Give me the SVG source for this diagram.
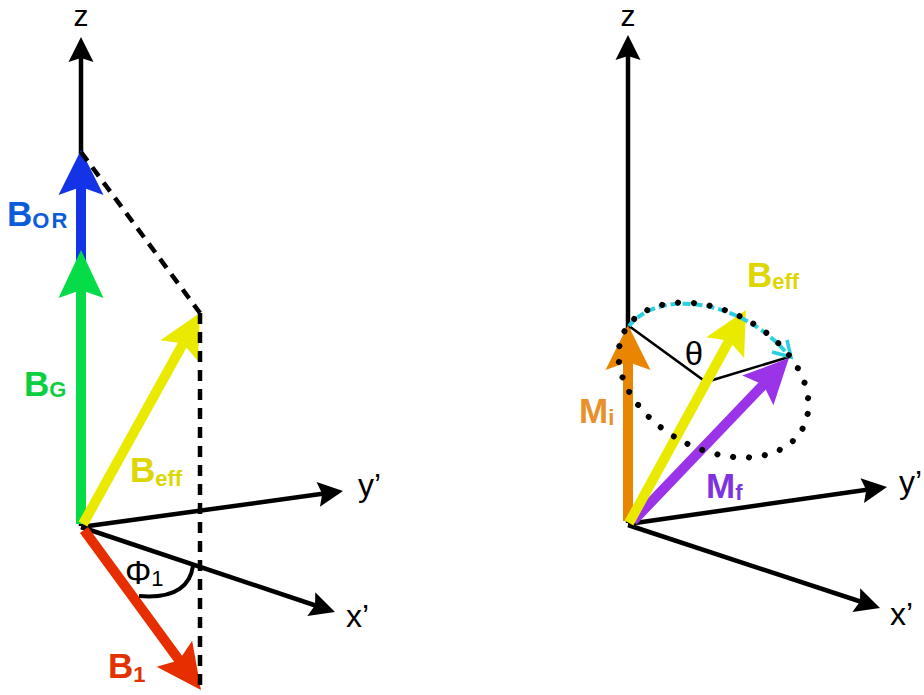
<svg xmlns="http://www.w3.org/2000/svg" width="924" height="695" viewBox="0 0 924 695">
<style>
.ax{stroke:#000;stroke-width:4.5;fill:none}
.lbl{font-family:"Liberation Sans",Arial,sans-serif;fill:#000}
.bl{font-family:"Liberation Sans",Arial,sans-serif;font-weight:bold;font-size:35px}
.sub{font-size:22px}
.dash{stroke:#000;stroke-width:4.5;fill:none;stroke-dasharray:11 8}
.vec{stroke-width:10;fill:none}
</style>
<defs>
<marker id="hk" markerUnits="userSpaceOnUse" orient="auto" refX="0" refY="0" markerWidth="60" markerHeight="60" viewBox="-30 -30 60 60" overflow="visible"><path d="M8 0 L-17 -12.5 L-13 0 L-17 12.5 Z" fill="#000"/></marker>
<marker id="hb" markerUnits="userSpaceOnUse" orient="auto" refX="0" refY="0" markerWidth="100" markerHeight="100" viewBox="-50 -50 100 100" overflow="visible"><path d="M15 0 L-30 -22.5 L-22 0 L-30 22.5 Z" fill="#1433E6"/></marker>
<marker id="hg" markerUnits="userSpaceOnUse" orient="auto" refX="0" refY="0" markerWidth="100" markerHeight="100" viewBox="-50 -50 100 100" overflow="visible"><path d="M15 0 L-33 -22.5 L-25 0 L-33 22.5 Z" fill="#05DC48"/></marker>
<marker id="hy" markerUnits="userSpaceOnUse" orient="auto" refX="0" refY="0" markerWidth="100" markerHeight="100" viewBox="-50 -50 100 100" overflow="visible"><path d="M15 0 L-28 -21.5 L-20 0 L-28 21.5 Z" fill="#EAEA00"/></marker>
<marker id="hr" markerUnits="userSpaceOnUse" orient="auto" refX="0" refY="0" markerWidth="100" markerHeight="100" viewBox="-50 -50 100 100" overflow="visible"><path d="M15 0 L-30 -22 L-22 0 L-30 22 Z" fill="#E62E00"/></marker>
<marker id="ho" markerUnits="userSpaceOnUse" orient="auto" refX="0" refY="0" markerWidth="100" markerHeight="100" viewBox="-50 -50 100 100" overflow="visible"><path d="M15 0 L-30 -22.5 L-22 0 L-30 22.5 Z" fill="#E98500"/></marker>
<marker id="hp" markerUnits="userSpaceOnUse" orient="auto" refX="0" refY="0" markerWidth="100" markerHeight="100" viewBox="-50 -50 100 100" overflow="visible"><path d="M15 0 L-30 -21.5 L-22 0 L-30 21.5 Z" fill="#9B33E8"/></marker>
</defs>

<g id="connectors">
  <line class="ax" x1="81" y1="526" x2="81" y2="45" marker-end="url(#hk)"/>
  <line class="ax" x1="81" y1="527" x2="335.1" y2="492.1" marker-end="url(#hk)"/>
  <line class="ax" x1="81" y1="527" x2="327.4" y2="609.5" marker-end="url(#hk)"/>
  <line class="ax" x1="628" y1="523" x2="628" y2="43" marker-end="url(#hk)"/>
  <line class="ax" x1="628" y1="524" x2="879.1" y2="488.1" marker-end="url(#hk)"/>
  <line class="ax" x1="628" y1="525" x2="872.4" y2="605.5" marker-end="url(#hk)"/>
</g>

<g id="B_OR">
  <line class="vec" stroke="#1433E6" x1="81" y1="262" x2="81" y2="165" marker-end="url(#hb)"/>
  <text class="bl" fill="#0B5CD9" x="7" y="226">B<tspan class="sub" dy="2" letter-spacing="2">OR</tspan></text>
</g>
<g id="B_G">
  <line class="vec" stroke="#05DC48" x1="81" y1="524" x2="81" y2="265" marker-end="url(#hg)"/>
  <text class="bl" fill="#0BCF3F" x="24" y="396">B<tspan class="sub" dy="1">G</tspan></text>
</g>
<g id="B1">
  <line class="vec" stroke="#E62E00" stroke-width="11" x1="84" y1="530" x2="192.1" y2="677.9" marker-end="url(#hr)"/>
  <text class="bl" fill="#E23200" x="108" y="678">B<tspan class="sub" dy="4">1</tspan></text>
</g>
<g id="Beff_left">
  <line class="vec" stroke="#EAEA00" stroke-width="11" x1="83" y1="524" x2="192.7" y2="326.1" marker-end="url(#hy)"/>
  <text class="bl" fill="#DDD600" x="130" y="482">B<tspan class="sub" dy="4">eff</tspan></text>
</g>
<g id="projection">
  <path class="dash" d="M81 152 L200 313"/>
  <path class="dash" d="M200 313 L200 690"/>
</g>
<g id="phi1">
  <path d="M139 596 Q188 600 193 566" stroke="#000" stroke-width="4" fill="none"/>
  <text class="lbl" x="125" y="584" font-size="33">Φ<tspan font-size="22" dy="2">1</tspan></text>
</g>
<g id="axis_labels_left">
  <text class="lbl" x="81" y="26" font-size="30" text-anchor="middle">z</text>
  <text class="lbl" x="358" y="496" font-size="32">y’</text>
  <text class="lbl" x="346" y="627" font-size="32">x’</text>
</g>

<g id="Mi">
  <line class="vec" stroke="#E98500" x1="628" y1="521" x2="628" y2="340" marker-end="url(#ho)"/>
  <text class="bl" fill="#E8902A" x="579" y="423">M<tspan class="sub" dy="2">i</tspan></text>
</g>
<g id="theta">
  <path d="M629 326 L706 382 L789 357" stroke="#000" stroke-width="2.5" fill="none"/>
  <text class="lbl" x="694" y="365" font-size="33" text-anchor="middle">θ</text>
</g>
<g id="Mf">
  <line class="vec" stroke="#9B33E8" stroke-width="11" x1="633" y1="521" x2="778.6" y2="368.8" marker-end="url(#hp)"/>
  <text class="bl" fill="#7F32E0" x="706" y="498">M<tspan class="sub" dy="2">f</tspan></text>
</g>
<g id="Beff_right">
  <line class="vec" stroke="#EAEA00" stroke-width="11" x1="629" y1="523" x2="738.7" y2="323.1" marker-end="url(#hy)"/>
  <text class="bl" fill="#DDD600" x="747" y="287">B<tspan class="sub" dy="2">eff</tspan></text>
</g>
<g id="precession">
  <path d="M629 326 A101.5 68.7 28.7 0 1 789 356" stroke="#2BD0E0" stroke-width="4" fill="none" stroke-dasharray="8 4"/>
  <path d="M772 352 L791 357 L787 340" stroke="#2BD0E0" stroke-width="3.5" fill="none"/>
  <ellipse cx="713.5" cy="380" rx="101.5" ry="68.7" transform="rotate(28.7 713.5 380)" pathLength="34" stroke="#000" stroke-width="6" stroke-linecap="round" stroke-dasharray="0 1" fill="none"/>
</g>
<g id="axis_labels_right">
  <text class="lbl" x="628" y="26" font-size="30" text-anchor="middle">z</text>
  <text class="lbl" x="899" y="493" font-size="32">y’</text>
  <text class="lbl" x="890" y="625" font-size="32">x’</text>
</g>
</svg>
